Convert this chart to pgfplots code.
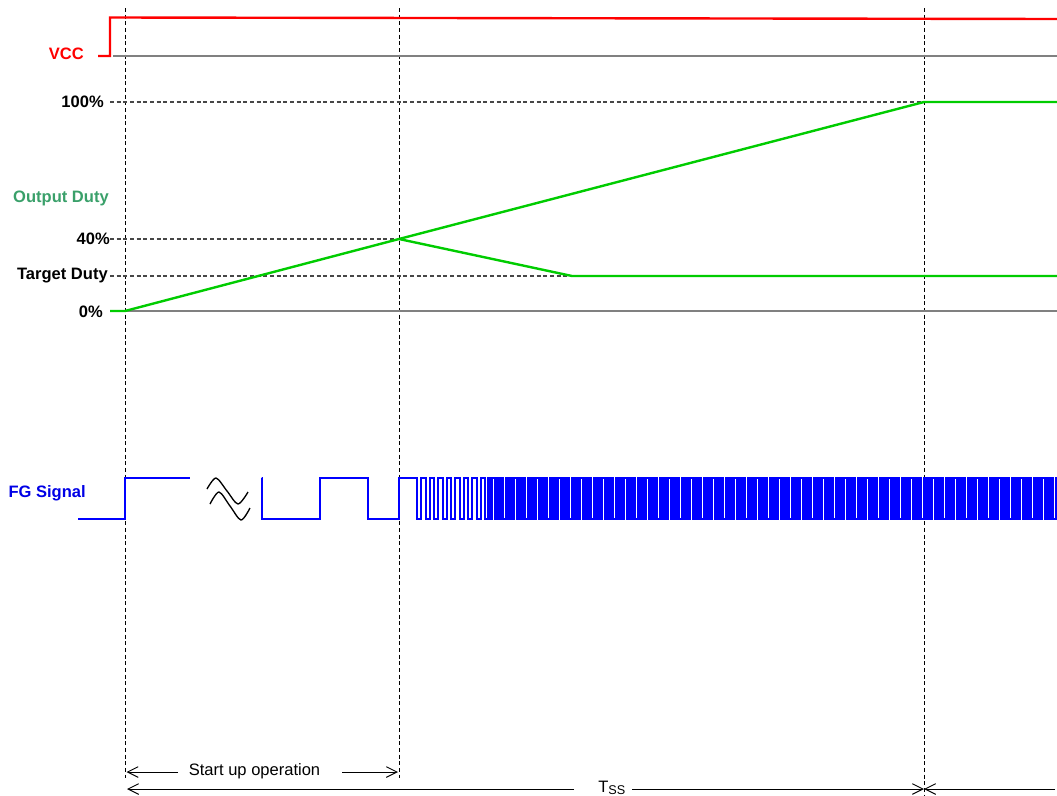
\documentclass[border=0pt]{standalone}
\usepackage{fontspec}
\setmainfont{Liberation Sans}
\usepackage{pgfplots}
\pgfplotsset{compat=1.18}
\usetikzlibrary{arrows.meta}
\definecolor{vccred}{RGB}{255,0,0}
\definecolor{duty}{RGB}{0,204,0}
\definecolor{dutylabel}{RGB}{58,160,106}
\definecolor{fgblue}{RGB}{0,0,255}
\definecolor{fglabel}{RGB}{0,0,230}
\definecolor{basegray}{RGB}{128,128,128}
\definecolor{dashgray}{RGB}{70,70,70}
\begin{document}
\begin{tikzpicture}
\begin{axis}[scale only axis, width=792.75pt, height=597pt,
  xmin=0, xmax=1057, ymin=0, ymax=796, y dir=reverse,
  hide axis, clip=false]
% guide dashed lines
\addplot[black, line width=0.7pt, dash pattern=on 3pt off 2pt] coordinates {(125,8) (125,778)};
\addplot[black, line width=0.7pt, dash pattern=on 3pt off 2pt] coordinates {(399,8) (399,778)};
\addplot[black, line width=0.7pt, dash pattern=on 3pt off 2pt] coordinates {(924,8) (924,796)};
\addplot[dashgray, line width=0.8pt, dash pattern=on 3pt off 2pt] coordinates {(110,102) (924,102)};
\addplot[dashgray, line width=0.8pt, dash pattern=on 3pt off 2pt] coordinates {(110,239) (399,239)};
\addplot[dashgray, line width=0.8pt, dash pattern=on 3pt off 2pt] coordinates {(110,276) (572,276)};
% baselines
\addplot[basegray, line width=1.4pt] coordinates {(113,56) (1057,56)};
\addplot[basegray, line width=1.2pt] coordinates {(125,311) (1057,311)};
% VCC
\addplot[vccred, line width=1.8pt] coordinates {(98,56) (110,56) (110,17.5) (1057,19)};
% Output duty
\addplot[duty, line width=1.8pt] coordinates {(110,311) (125,311) (399,239) (924,102) (1057,102)};
\addplot[duty, line width=1.8pt] coordinates {(399,239) (572,276) (1057,276)};
% FG signal
\addplot[fgblue, line width=1.5pt] coordinates {(78,519) (125,519) (125,478) (190,478)};
\addplot[black, line width=1pt, smooth] coordinates {(207,489) (216,478) (227,491) (238,504) (248,492)};
\addplot[black, line width=1pt, smooth] coordinates {(210,504) (219,492) (230,506) (241,520) (250,508)};
\addplot[fgblue, line width=1.5pt, const plot] table[row sep=\\] {
x y\\
262 478\\ 262.01 519\\ 320 478\\ 368 519\\ 399 478\\ 417 519\\
421 478\\ 425.5 519\\ 429.5 478\\ 434 519\\ 438 478\\ 442.5 519\\
446.5 478\\ 451 519\\ 455 478\\ 459.5 519\\ 463.5 478\\ 468 519\\
472 478\\ 476.5 519\\ 480.5 478\\ 485 519\\
488 478\\ 490.2 519\\ 492.4 478\\ 494.6 519\\ 496.8 478\\ 499 519\\ 501.2 478\\ 503.4 519\\ 505.6 478\\ 507.8 519\\
510 478\\ 512.2 519\\ 514.4 478\\ 516.6 519\\ 518.8 478\\ 521 519\\ 523.2 478\\ 525.4 519\\ 527.6 478\\ 529.8 519\\
532 478\\ 534.2 519\\ 536.4 478\\ 538.6 519\\ 540.8 478\\ 543 519\\ 545.2 478\\ 547.4 519\\ 549.6 478\\ 551.8 519\\
554 478\\ 556.2 519\\ 558.4 478\\ 560.6 519\\ 562.8 478\\ 565 519\\ 567.2 478\\ 569.4 519\\ 571.6 478\\ 573.8 519\\
576 478\\ 578.2 519\\ 580.4 478\\ 582.6 519\\ 584.8 478\\ 587 519\\ 589.2 478\\ 591.4 519\\ 593.6 478\\ 595.8 519\\
598 478\\ 600.2 519\\ 602.4 478\\ 604.6 519\\ 606.8 478\\ 609 519\\ 611.2 478\\ 613.4 519\\ 615.6 478\\ 617.8 519\\
620 478\\ 622.2 519\\ 624.4 478\\ 626.6 519\\ 628.8 478\\ 631 519\\ 633.2 478\\ 635.4 519\\ 637.6 478\\ 639.8 519\\
642 478\\ 644.2 519\\ 646.4 478\\ 648.6 519\\ 650.8 478\\ 653 519\\ 655.2 478\\ 657.4 519\\ 659.6 478\\ 661.8 519\\
664 478\\ 666.2 519\\ 668.4 478\\ 670.6 519\\ 672.8 478\\ 675 519\\ 677.2 478\\ 679.4 519\\ 681.6 478\\ 683.8 519\\
686 478\\ 688.2 519\\ 690.4 478\\ 692.6 519\\ 694.8 478\\ 697 519\\ 699.2 478\\ 701.4 519\\ 703.6 478\\ 705.8 519\\
708 478\\ 710.2 519\\ 712.4 478\\ 714.6 519\\ 716.8 478\\ 719 519\\ 721.2 478\\ 723.4 519\\ 725.6 478\\ 727.8 519\\
730 478\\ 732.2 519\\ 734.4 478\\ 736.6 519\\ 738.8 478\\ 741 519\\ 743.2 478\\ 745.4 519\\ 747.6 478\\ 749.8 519\\
752 478\\ 754.2 519\\ 756.4 478\\ 758.6 519\\ 760.8 478\\ 763 519\\ 765.2 478\\ 767.4 519\\ 769.6 478\\ 771.8 519\\
774 478\\ 776.2 519\\ 778.4 478\\ 780.6 519\\ 782.8 478\\ 785 519\\ 787.2 478\\ 789.4 519\\ 791.6 478\\ 793.8 519\\
796 478\\ 798.2 519\\ 800.4 478\\ 802.6 519\\ 804.8 478\\ 807 519\\ 809.2 478\\ 811.4 519\\ 813.6 478\\ 815.8 519\\
818 478\\ 820.2 519\\ 822.4 478\\ 824.6 519\\ 826.8 478\\ 829 519\\ 831.2 478\\ 833.4 519\\ 835.6 478\\ 837.8 519\\
840 478\\ 842.2 519\\ 844.4 478\\ 846.6 519\\ 848.8 478\\ 851 519\\ 853.2 478\\ 855.4 519\\ 857.6 478\\ 859.8 519\\
862 478\\ 864.2 519\\ 866.4 478\\ 868.6 519\\ 870.8 478\\ 873 519\\ 875.2 478\\ 877.4 519\\ 879.6 478\\ 881.8 519\\
884 478\\ 886.2 519\\ 888.4 478\\ 890.6 519\\ 892.8 478\\ 895 519\\ 897.2 478\\ 899.4 519\\ 901.6 478\\ 903.8 519\\
906 478\\ 908.2 519\\ 910.4 478\\ 912.6 519\\ 914.8 478\\ 917 519\\ 919.2 478\\ 921.4 519\\ 923.6 478\\ 925.8 519\\
928 478\\ 930.2 519\\ 932.4 478\\ 934.6 519\\ 936.8 478\\ 939 519\\ 941.2 478\\ 943.4 519\\ 945.6 478\\ 947.8 519\\
950 478\\ 952.2 519\\ 954.4 478\\ 956.6 519\\ 958.8 478\\ 961 519\\ 963.2 478\\ 965.4 519\\ 967.6 478\\ 969.8 519\\
972 478\\ 974.2 519\\ 976.4 478\\ 978.6 519\\ 980.8 478\\ 983 519\\ 985.2 478\\ 987.4 519\\ 989.6 478\\ 991.8 519\\
994 478\\ 996.2 519\\ 998.4 478\\ 1000.6 519\\ 1002.8 478\\ 1005 519\\ 1007.2 478\\ 1009.4 519\\ 1011.6 478\\ 1013.8 519\\
1016 478\\ 1018.2 519\\ 1020.4 478\\ 1022.6 519\\ 1024.8 478\\ 1027 519\\ 1029.2 478\\ 1031.4 519\\ 1033.6 478\\ 1035.8 519\\
1038 478\\ 1040.2 519\\ 1042.4 478\\ 1044.6 519\\ 1046.8 478\\ 1049 519\\ 1051.2 478\\ 1053.4 519\\ 1055.6 478\\ 1056.5 478\\
};
% labels
\tikzset{lab/.style={anchor=east, inner sep=0pt, font=\bfseries\fontsize{12.4}{14}\selectfont}}
\node[lab, text=vccred] at (axis cs:84,54) {VCC};
\node[lab] at (axis cs:104,102) {100\%};
\node[lab, text=dutylabel] at (axis cs:109,198) {Output Duty};
\node[lab] at (axis cs:110,239) {40\%};
\node[lab] at (axis cs:108,276) {Target Duty};
\node[lab] at (axis cs:103,312) {0\%};
\node[lab, text=fglabel] at (axis cs:86,493) {FG Signal};
% bottom arrows
\draw[line width=0.7pt, -{Straight Barb[length=8pt,width=8pt]}] (axis cs:178,772) -- (axis cs:126.5,772);
\draw[line width=0.7pt, -{Straight Barb[length=8pt,width=8pt]}] (axis cs:342,772) -- (axis cs:398,772);
\node[font=\fontsize{12.4}{14}\selectfont, inner sep=0pt] at (axis cs:254.5,771) {Start up operation};
\draw[line width=0.7pt, -{Straight Barb[length=8pt,width=8pt]}] (axis cs:574,789) -- (axis cs:127,789);
\draw[line width=0.7pt, -{Straight Barb[length=8pt,width=8pt]}] (axis cs:632,789) -- (axis cs:924,789);
\draw[line width=0.7pt, -{Straight Barb[length=8pt,width=8pt]}] (axis cs:1055,789) -- (axis cs:924,789);
\node[anchor=base west, inner sep=0pt, font=\fontsize{12.4}{14}\selectfont] at (axis cs:598,792) {T\raisebox{-1.5pt}{\fontsize{9.5}{10}\selectfont SS}};
\end{axis}
\pgfresetboundingbox
\path (0,0) rectangle (792.75pt,597pt);
\end{tikzpicture}
\end{document}
